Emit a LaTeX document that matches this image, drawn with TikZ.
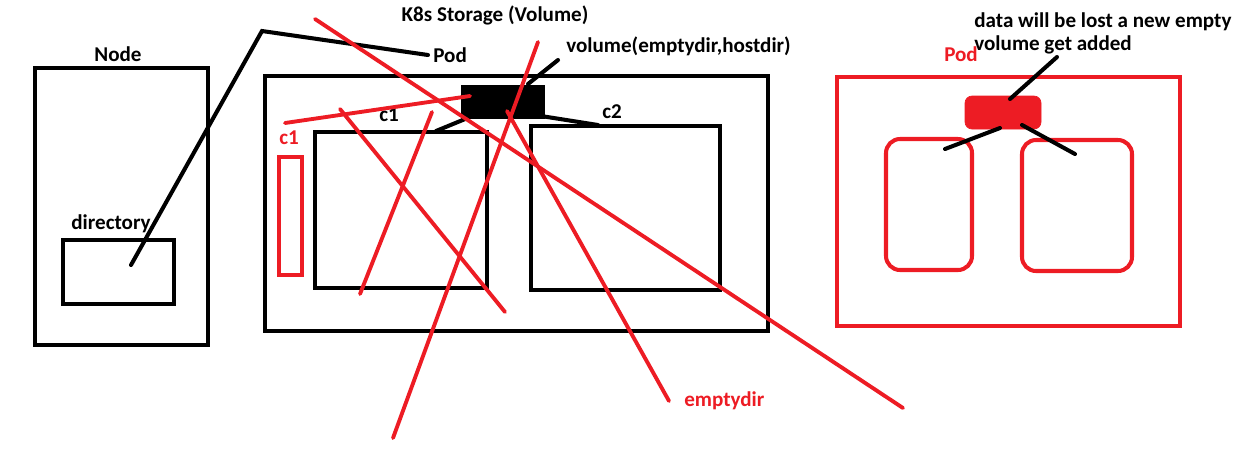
\documentclass[tikz,border=0pt]{standalone}
\usepackage{fontspec}
\setmainfont{Carlito}
\usepackage{tikz}
\usetikzlibrary{calc}
\usetikzlibrary{fit}

\definecolor{paintred}{RGB}{237,28,36}

\begin{document}
\begin{tikzpicture}[x=0.02cm,y=-0.02cm,
  font=\bfseries\fontsize{12}{13.4}\selectfont,
  box/.style={draw,line width=2.5pt,inner sep=0pt},
  redbox/.style={draw=paintred,line width=2.3pt,inner sep=0pt},
  link/.style={line width=2.3pt,line cap=round},
  cross/.style={draw=paintred,line width=2.2pt,line cap=round}]
\useasboundingbox (0,0) rectangle (1243,468);

% the node with its directory
\coordinate (N1) at (35,68);
\coordinate (N2) at (208,345);
\node[box,fit=(N1)(N2)] (node) {};
\node (nodelabel) at (118,54) {Node};
\coordinate (D1) at (63,240);
\coordinate (D2) at (174,304);
\node[box,fit=(D1)(D2)] (dir) {};
\node (dirlabel) at (111,224) {directory};

% k8s pod with the volume
\node (title) at (495,15) {K8s Storage (Volume)};
\coordinate (P1) at (265,76);
\coordinate (P2) at (768,331);
\node[box,fit=(P1)(P2)] (pod) {};
\coordinate (V1) at (463,87);
\coordinate (V2) at (543,117);
\node[box,fill=black,fit=(V1)(V2)] (vol) {};
\coordinate (A1) at (315,132);
\coordinate (A2) at (487,288);
\node[box,fit=(A1)(A2)] (cone) {};
\node (conelabel) at (389,115) {c1};
\coordinate (B1) at (531,126);
\coordinate (B2) at (720,290);
\node[box,fit=(B1)(B2)] (ctwo) {};
\node (ctwolabel) at (612,112) {c2};
\node[anchor=west,inner sep=0pt] (podlabel) at (433,55) {Pod};
\node[anchor=west,inner sep=0pt] (vollabel) at (566,46) {volume(emptydir,hostdir)};

\coordinate (dirend) at (131,265);
\coordinate (bend) at (262,31);
\coordinate (podend) at (428,55);
\draw[link] (dirend)--(bend)--(podend);
\coordinate (c1top) at (436,131);
\coordinate (vleft) at (470,117);
\coordinate (vright) at (541,116);
\coordinate (c2top) at (598,125);
\coordinate (vtop) at (528,84);
\coordinate (vlab) at (558,60);
\draw[link] (c1top)--(vleft);
\draw[link] (vright)--(c2top);
\draw[link] (vtop)--(vlab);

% red container and the crossing out
\coordinate (R1) at (279,157);
\coordinate (R2) at (302,275);
\node[redbox,fit=(R1)(R2)] (redc) {};
\node[text=paintred] (redclabel) at (289,138) {c1};
\coordinate (s1a) at (315,19);
\coordinate (s1b) at (903,408);
\coordinate (s2a) at (285,123);
\coordinate (s2b) at (470,96);
\coordinate (s3a) at (340,109);
\coordinate (s3b) at (505,312);
\coordinate (s4a) at (432,112);
\coordinate (s4b) at (360,294);
\coordinate (s5a) at (538,42);
\coordinate (s5b) at (393,438);
\coordinate (s6a) at (507,111);
\coordinate (s6b) at (669,401);
\draw[cross] (s1a)--(s1b);
\draw[cross] (s2a)--(s2b);
\draw[cross] (s3a)--(s3b);
\draw[cross] (s4a)--(s4b);
\draw[cross] (s5a)--(s5b);
\draw[cross] (s6a)--(s6b);
\node[text=paintred,anchor=west,inner sep=0pt] (emptylabel) at (684,401) {emptydir};

% new pod
\coordinate (Q1) at (837,77);
\coordinate (Q2) at (1180,326);
\node[redbox,fit=(Q1)(Q2)] (newpod) {};
\node[text=paintred] (newpodlabel) at (961,54) {Pod};
\coordinate (W1) at (965,96);
\coordinate (W2) at (1041,129);
\node[draw=paintred,fill=paintred,inner sep=0pt,rounded corners=4pt,fit=(W1)(W2)] (newvol) {};
\coordinate (L1) at (886,139);
\coordinate (L2) at (972,270);
\node[redbox,rounded corners=8pt,fit=(L1)(L2)] (leftc) {};
\coordinate (M1) at (1022,140);
\coordinate (M2) at (1132,271);
\node[redbox,rounded corners=8pt,fit=(M1)(M2)] (rightc) {};
\node[anchor=north west,align=left,inner sep=0pt] (note) at (974,12) {data will be lost a new empty\\volume get added};
\coordinate (nvtop) at (1010,99);
\coordinate (notend) at (1057,57);
\coordinate (nvl) at (1000,128);
\coordinate (lend) at (945,149);
\coordinate (nvr) at (1022,125);
\coordinate (rend) at (1075,154);
\draw[link] (nvtop)--(notend);
\draw[link] (nvl)--(lend);
\draw[link] (nvr)--(rend);

\end{tikzpicture}
\end{document}
